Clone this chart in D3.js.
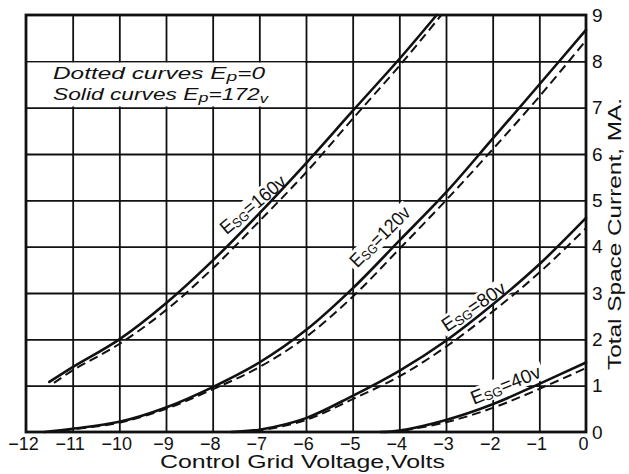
<!DOCTYPE html>
<html><head><meta charset="utf-8">
<script src="https://cdn.jsdelivr.net/npm/d3@7"></script>
<style>body{margin:0;background:#fff} svg{display:block}</style>
</head><body><svg id="c" width="629" height="474"></svg>
<script>
// ---- data ----
const xTicks = [-12,-11,-10,-9,-8,-7,-6,-5,-4,-3,-2,-1,0];
const xTickLabels = ["\u221212","\u221211","\u221210","\u22129","\u22128","\u22127","\u22126","\u22125","\u22124","\u22123","\u22122","\u22121","0"];
const yTicks = [0,1,2,3,4,5,6,7,8,9];
const yTickLabels = ["0","1","2","3","4","5","6","7","8","9"];
const screenVolts = ["160v","120v","80v","40v"];
// solid curves (Ep = 172 v): [grid volts, mA]
const solid160 = [[-11.5,1.08],[-11,1.4],[-10,2.0],[-9,2.78],[-8,3.7],[-7,4.72],[-6,5.8],[-5,6.93],[-4,8.05],[-3.2,9]];
const solid120 = [[-11.6,0],[-11,0.07],[-10,0.22],[-9,0.53],[-8,0.97],[-7,1.5],[-6,2.2],[-5,3.1],[-4,4.13],[-3,5.17],[-2,6.33],[-1,7.5],[0,8.68]];
const solid80  = [[-7.6,0],[-7,0.05],[-6,0.3],[-5,0.78],[-4,1.32],[-3,1.97],[-2,2.75],[-1,3.62],[0,4.62]];
const solid40  = [[-4.4,0],[-4,0.03],[-3,0.26],[-2,0.6],[-1,1.04],[0,1.5]];
// dotted curves (Ep = 0)
const dashed160 = [[-11.4,1.06],[-11,1.33],[-10,1.9],[-9,2.63],[-8,3.53],[-7,4.55],[-6,5.6],[-5,6.76],[-4,7.9],[-3.1,9]];
const dashed120 = [[-11.5,0],[-11,0.06],[-10,0.2],[-9,0.5],[-8,0.92],[-7,1.4],[-6,2.05],[-5,2.92],[-4,3.95],[-3,5.0],[-2,6.1],[-1,7.24],[0,8.45]];
const dashed80  = [[-7.4,0],[-7,0.03],[-6,0.26],[-5,0.71],[-4,1.2],[-3,1.84],[-2,2.6],[-1,3.44],[0,4.4]];
const dashed40  = [[-4.2,0],[-4,0.02],[-3,0.21],[-2,0.52],[-1,0.93],[0,1.38]];

// ---- layout ----
const W = 629, H = 474;
const L = 26, R = 586, T = 15, B = 432;
const x = d3.scaleLinear().domain([-12,0]).range([L,R]);
const y = d3.scaleLinear().domain([0,9]).range([B,T]);
const ink = "#111";
const font = "'Liberation Sans', Arial, sans-serif";
const svg = d3.select("#c");
svg.append("rect").attr("width",W).attr("height",H).attr("fill","#fff");

// grid
const gx = svg.append("g").attr("transform",`translate(0,${B})`)
  .call(d3.axisBottom(x).tickValues(xTicks.slice(1,-1)).tickSize(-(B-T)).tickFormat(""));
gx.select(".domain").remove();
gx.selectAll("line").attr("stroke",ink).attr("stroke-width",1.8);
const gy = svg.append("g").attr("transform",`translate(${L},0)`)
  .call(d3.axisLeft(y).tickValues(yTicks.slice(1,-1)).tickSize(-(R-L)).tickFormat(""));
gy.select(".domain").remove();
gy.selectAll("line").attr("stroke",ink).attr("stroke-width",1.8);

// legend box (white band)
svg.append("rect").attr("x",x(-12)+1).attr("y",y(8)+1.2)
  .attr("width",x(-6)-x(-12)-2).attr("height",y(7)-y(8)-2.4).attr("fill","#fff");

// curve labels layout
const labelSpec = [
  {v:-7.13,i:4.9, ang:40, len:80},
  {v:-4.41,i:4.21,ang:45, len:77},
  {v:-2.40,i:2.70,ang:34, len:73},
  {v:-1.72,i:1.01,ang:22, len:74}
];
labelSpec.forEach(s=>{
  svg.append("rect").attr("x",-s.len/2-3).attr("y",-10).attr("width",s.len+6).attr("height",19)
    .attr("fill","#fff")
    .attr("transform",`translate(${x(s.v)},${y(s.i)}) rotate(${-s.ang})`);
});

// curves
const line = d3.line().x(d=>x(d[0])).y(d=>y(d[1])).curve(d3.curveCatmullRom.alpha(0.5));
[solid160,solid120,solid80,solid40].forEach(c=>{
  svg.append("path").attr("d",line(c)).attr("fill","none").attr("stroke",ink)
    .attr("stroke-width",2.6).attr("stroke-linecap","round");
});
[dashed160,dashed120,dashed80,dashed40].forEach(c=>{
  svg.append("path").attr("d",line(c)).attr("fill","none").attr("stroke",ink)
    .attr("stroke-width",2).attr("stroke-dasharray","9,5");
});

// border
svg.append("rect").attr("x",L).attr("y",T).attr("width",R-L).attr("height",B-T)
  .attr("fill","none").attr("stroke",ink).attr("stroke-width",2.8);

// curve label text
labelSpec.forEach((s,k)=>{
  const t = svg.append("text")
    .attr("transform",`translate(${x(s.v)},${y(s.i)}) rotate(${-s.ang})`)
    .attr("x",-s.len/2).attr("y",6)
    .attr("font-family",font).attr("font-size",19).attr("fill",ink)
    .attr("textLength",s.len).attr("lengthAdjust","spacingAndGlyphs");
  t.append("tspan").text("E");
  t.append("tspan").attr("font-size",13).attr("dy",1.5).text("SG");
  t.append("tspan").attr("dy",-1.5).text("=" + screenVolts[k]);
});

// legend text
const lg1 = svg.append("text").attr("x",53).attr("y",79).attr("font-family",font)
  .attr("font-style","italic").attr("font-size",16.5).attr("fill",ink)
  .attr("textLength",212).attr("lengthAdjust","spacingAndGlyphs");
lg1.append("tspan").text("Dotted curves E");
lg1.append("tspan").attr("font-size",13).attr("dy",2).text("p");
lg1.append("tspan").attr("dy",-2).text("=0");
const lg2 = svg.append("text").attr("x",53).attr("y",100).attr("font-family",font)
  .attr("font-style","italic").attr("font-size",16.5).attr("fill",ink)
  .attr("textLength",215).attr("lengthAdjust","spacingAndGlyphs");
lg2.append("tspan").text("Solid curves E");
lg2.append("tspan").attr("font-size",13).attr("dy",2).text("p");
lg2.append("tspan").attr("dy",-2).text("=172");
lg2.append("tspan").attr("font-size",12).attr("dy",3).text("v");

// x axis labels
const ax = svg.append("g").attr("transform",`translate(-3,${B})`)
  .call(d3.axisBottom(x).tickValues(xTicks).tickSize(0).tickPadding(5)
    .tickFormat((d,i)=>xTickLabels[i]));
ax.select(".domain").remove();
ax.selectAll("text").attr("font-family",font).attr("font-size",18).attr("fill",ink);

// y axis labels (right)
const ay = svg.append("g").attr("transform",`translate(${R},0)`)
  .call(d3.axisRight(y).tickValues(yTicks).tickSize(0).tickPadding(6)
    .tickFormat((d,i)=>yTickLabels[i]));
ay.select(".domain").remove();
ay.selectAll("text").attr("font-family",font).attr("font-size",19).attr("fill",ink);

// axis titles
svg.append("text").attr("x",160).attr("y",468).attr("font-family",font).attr("font-size",18)
  .attr("fill",ink).attr("textLength",285).attr("lengthAdjust","spacingAndGlyphs")
  .text("Control Grid Voltage,Volts");
svg.append("text").attr("transform","translate(621,370) rotate(-90)")
  .attr("font-family",font).attr("font-size",18).attr("fill",ink)
  .attr("textLength",272).attr("lengthAdjust","spacingAndGlyphs")
  .text("Total Space Current, MA.");
</script></body></html>
